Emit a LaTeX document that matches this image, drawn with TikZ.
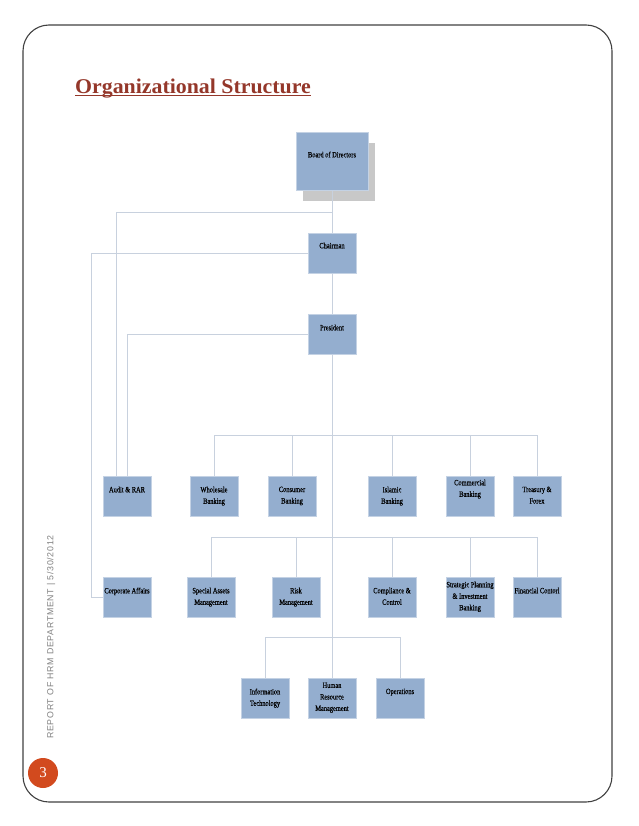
\documentclass[tikz,border=0pt]{standalone}
\usepackage{fontspec}
\setmainfont{Liberation Serif}
\newfontfamily\boxfont[FakeStretch=0.8, FakeBold=0.5]{Liberation Serif}
\newfontfamily\titlefont[FakeStretch=1.04]{Liberation Serif}
\newfontfamily\sidefont[LetterSpace=8]{Liberation Sans}
\usepackage{tikz}
\usetikzlibrary{shadows}
\definecolor{unitfill}{HTML}{94AECF}
\definecolor{unitedge}{HTML}{C4D2E4}
\definecolor{linkline}{HTML}{C8D1DE}
\definecolor{titlered}{HTML}{94372A}
\definecolor{pagebadge}{HTML}{D24A1E}
\definecolor{shadowgray}{HTML}{C8C8C8}
\definecolor{sidegray}{HTML}{7F7F7F}

\begin{document}
\begin{tikzpicture}[x=1pt, y=-1pt, thin]
  \tikzset{
    unit/.style={draw=unitedge, line width=1pt, fill=unitfill, minimum width=48pt, minimum height=40pt, inner sep=0pt},
    unitlabel/.style={anchor=north, align=center, inner sep=0pt, yshift=-11pt, font={\boxfont\fontsize{8}{11.5}\selectfont}},
    link/.style={draw=linkline, line width=0.9pt},
    badge/.style={circle, fill=pagebadge, text=white, minimum size=30pt, inner sep=0pt, font=\fontsize{15}{15}\selectfont}
  }
  \useasboundingbox (0,0) rectangle (638,826);

  % page frame, title and footer
  \draw[black!75, line width=1.1pt, rounded corners=26pt] (23,25) rectangle (612,802);
  \node[anchor=base west, inner sep=0pt, text=titlered, font={\titlefont\bfseries\fontsize{21}{21}\selectfont}] (title) at (75,93.5) {Organizational Structure};
  \draw[titlered, line width=0.9pt] ([yshift=-1.8pt]title.base west) -- ([yshift=-1.8pt]title.base east);
  \node[rotate=90, text=sidegray, inner sep=0pt, font={\sidefont\fontsize{8.8}{9}\selectfont}] (footer) at (51,637) {REPORT OF HRM DEPARTMENT | 5/30/2012};
  \node[badge] (pagenum) at (43,773) {3};

  % top of the chart
  \node[unit, minimum width=72pt, minimum height=58pt,
        drop shadow={shadow xshift=7pt, shadow yshift=-10pt, fill=shadowgray, opacity=1},
        label={[unitlabel, yshift=-8pt]north:Board of Directors}] (board) at (332,162) {};
  \node[unit, label={[unitlabel, yshift=1pt]north:Chairman}] (chair) at (332,253) {};
  \node[unit, label={[unitlabel]north:President}] (pres) at (332,334) {};

  % first row
  \node[unit, label={[unitlabel]north:Audit \& RAR}] (audit) at (127,496) {};
  \node[unit, label={[unitlabel]north:Wholesale\\Banking}] (wholesale) at (214,496) {};
  \node[unit, label={[unitlabel]north:Consumer\\Banking}] (consumer) at (292,496) {};
  \node[unit, label={[unitlabel]north:Islamic\\Banking}] (islamic) at (392,496) {};
  \node[unit, label={[unitlabel, yshift=7pt]north:Commercial\\Banking}] (commercial) at (470,496) {};
  \node[unit, label={[unitlabel]north:Treasury \&\\Forex}] (treasury) at (537,496) {};

  % second row
  \node[unit, label={[unitlabel]north:Corporate Affairs}] (corp) at (127,597) {};
  \node[unit, label={[unitlabel]north:Special Assets\\Management}] (special) at (211,597) {};
  \node[unit, label={[unitlabel]north:Risk\\Management}] (risk) at (296,597) {};
  \node[unit, label={[unitlabel]north:Compliance \&\\Control}] (compliance) at (392,597) {};
  \node[unit, label={[unitlabel, yshift=6pt]north:Strategic Planning\\\& Investment\\Banking}] (strategic) at (470,597) {};
  \node[unit, label={[unitlabel]north:Financial Contorl}] (financial) at (537,597) {};

  % third row
  \node[unit, label={[unitlabel]north:Information\\Technology}] (infotech) at (265,698) {};
  \node[unit, label={[unitlabel, yshift=6pt]north:Human\\Resource\\Management}] (hr) at (332,698) {};
  \node[unit, label={[unitlabel]north:Operations}] (operations) at (400,698) {};

  % connectors
  \coordinate (boardtap) at (332,212);
  \coordinate (bus1) at (332,435);
  \coordinate (bus2) at (332,537);
  \coordinate (bus3) at (332,637);
  \draw[link] (board.south) -- (chair.north);
  \draw[link] (chair.south) -- (pres.north);
  \draw[link] (pres.south) -- (hr.north);
  \draw[link] (boardtap) -| ([xshift=-11pt]audit.north);
  \draw[link] (chair.west) -| ([xshift=-11pt]corp.west) -- (corp.west);
  \draw[link] (pres.west) -| (audit.north);
  \foreach \u in {wholesale,consumer,islamic,commercial,treasury}
    \draw[link] (bus1) -| (\u.north);
  \foreach \u in {special,risk,compliance,strategic,financial}
    \draw[link] (bus2) -| (\u.north);
  \foreach \u in {infotech,operations}
    \draw[link] (bus3) -| (\u.north);
\end{tikzpicture}
\end{document}
